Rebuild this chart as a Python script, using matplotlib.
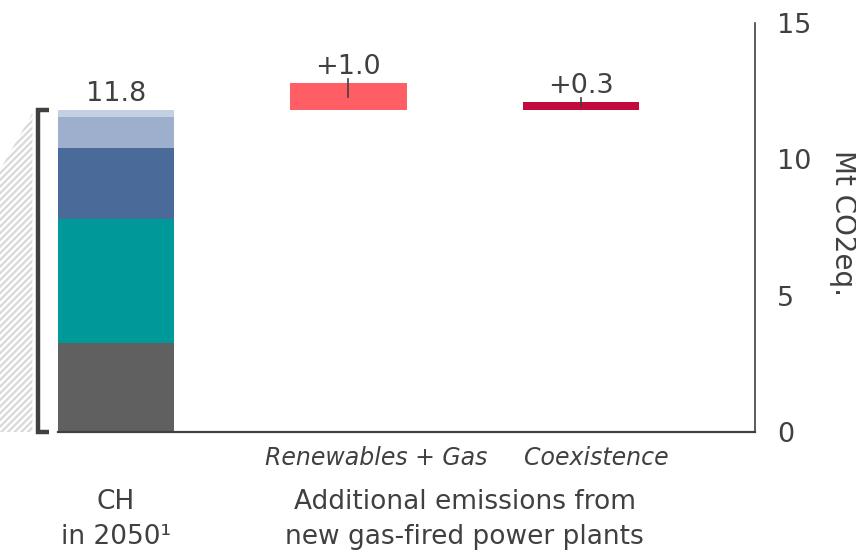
import matplotlib
matplotlib.use("Agg")
import matplotlib.pyplot as plt
from matplotlib.patches import Polygon

# Emissions stack for Switzerland in 2050 (Mt CO2eq.), bottom to top
base_segments = [3.25, 4.55, 2.6, 1.15, 0.25]
base_colors = ["#606060", "#009999", "#4A6A9A", "#9DAFCD", "#C5D0E3"]
base_total_label = "11.8"

# Additional emissions from new gas-fired power plants
scenarios = ["Renewables + Gas", "Coexistence"]
scenario_values = [1.0, 0.3]
scenario_labels = ["+1.0", "+0.3"]
scenario_colors = ["#FF5F64", "#C20A3C"]

y_ticks = [0, 5, 10, 15]
y_label = "Mt CO2eq."
group_labels = ["CH\nin 2050¹", "Additional emissions from\nnew gas-fired power plants"]

text_color = "#404040"
plt.rcParams["font.family"] = ["DejaVu Sans"]
plt.rcParams["hatch.linewidth"] = 1.6

fig = plt.figure(figsize=(8.56, 5.53), dpi=100)
ax = fig.add_axes([58 / 856, 1 - 432 / 553, (755 - 58) / 856, (432 - 23) / 553])

width = 0.5
# Stacked base bar
bottom = 0.0
for val, col in zip(base_segments, base_colors):
    ax.bar(0, val, width=width, bottom=bottom, color=col, linewidth=0)
    bottom += val
base_total = bottom
ax.annotate(base_total_label, (0, base_total), xytext=(0, 2), textcoords="offset points",
            ha="center", va="bottom", fontsize=19.5, color=text_color)

# Increment bars on top of the base total
for i, (val, lab, col) in enumerate(zip(scenario_values, scenario_labels, scenario_colors), start=1):
    ax.bar(i, val, width=width, bottom=base_total, color=col, linewidth=0)
    top = base_total + val
    ax.plot([i, i], [top + 0.15, base_total + val / 2], color=text_color, lw=1.2, zorder=3)
    ax.annotate(lab, (i, top), xytext=(0, 2), textcoords="offset points",
                ha="center", va="bottom", fontsize=19.5, color=text_color)

# Bracket beside the base bar
bx0, bx1 = -0.338, -0.29
ax.plot([bx1, bx0, bx0, bx1], [base_total, base_total, 0, 0], color="#404040",
        lw=3.2, clip_on=False, solid_joinstyle="miter", solid_capstyle="butt")

# Hatched connector band at the left edge
poly = Polygon([(-0.52, 9.3), (-0.36, 11.7), (-0.36, 0), (-0.52, 0)], closed=True,
               facecolor="none", edgecolor="#D9D9D9", hatch="/////", lw=0, clip_on=False)
ax.add_patch(poly)

ax.set_xlim(-0.25, 2.75)
ax.set_ylim(0, 15)

for s in ["top", "left"]:
    ax.spines[s].set_visible(False)
ax.spines["right"].set_color(text_color)
ax.spines["bottom"].set_color(text_color)
ax.spines["right"].set_linewidth(1.2)
ax.spines["bottom"].set_linewidth(1.6)

ax.yaxis.tick_right()
ax.set_yticks(y_ticks)
ax.tick_params(axis="y", length=0, pad=16, labelsize=19.5, labelcolor=text_color)
ax.set_xticks([])

fig.text(843 / 856, 1 - 223 / 553, y_label, rotation=-90, fontsize=20, color=text_color,
         ha="center", va="center")

# Scenario names under the increment bars
for i, name in enumerate(scenarios, start=1):
    ax.text(i + 0.12 - 0.055 * (i - 1), -0.035, name, transform=ax.get_xaxis_transform(),
            ha="center", va="top", fontsize=17, style="italic", color=text_color)

# Group labels
ax.text(0, -0.14, group_labels[0], transform=ax.get_xaxis_transform(), ha="center", va="top",
        fontsize=19, color=text_color, linespacing=1.45)
ax.text(1.5, -0.14, group_labels[1], transform=ax.get_xaxis_transform(), ha="center", va="top",
        fontsize=19, color=text_color, linespacing=1.45)

fig.savefig("out.png", dpi=100)
